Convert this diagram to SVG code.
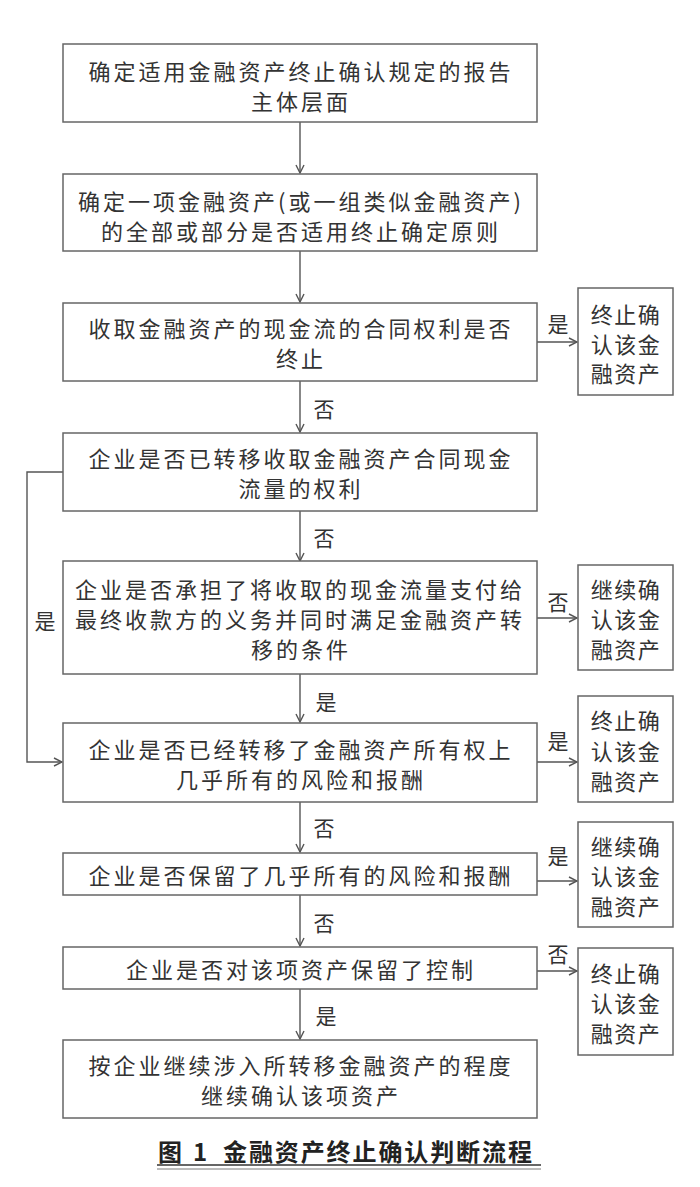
<svg xmlns="http://www.w3.org/2000/svg" width="700" height="1187" viewBox="0 0 700 1187">
<defs>
<style>
.box{fill:#fff;stroke:#666;stroke-width:1.5}
.t{font-family:"Noto Sans CJK SC","Liberation Serif",serif;font-size:22px;fill:#333;text-anchor:middle;dominant-baseline:central;letter-spacing:3px}
.s{font-family:"Noto Sans CJK SC","Liberation Serif",serif;font-size:22px;fill:#333;text-anchor:middle;dominant-baseline:central;letter-spacing:1.5px}
.lb{font-family:"Noto Sans CJK SC","Liberation Serif",serif;font-size:21px;fill:#333;text-anchor:middle;dominant-baseline:central}
.c{fill:none;stroke:#555;stroke-width:1.4}
.cap{font-family:"Noto Sans CJK SC","Liberation Sans",sans-serif;font-size:24px;font-weight:bold;fill:#222;dominant-baseline:central}
</style>
<marker id="ah" markerWidth="10" markerHeight="10" refX="9" refY="5" orient="auto" markerUnits="userSpaceOnUse">
<path d="M1,1 L9,5 L1,9" fill="none" stroke="#555" stroke-width="1.4"/>
</marker>
</defs>
<rect width="700" height="1187" fill="#fff"/>

<g id="connectors">
<line class="c" x1="300" y1="122" x2="300" y2="173" marker-end="url(#ah)"/>
<line class="c" x1="300" y1="251" x2="300" y2="302" marker-end="url(#ah)"/>
<line class="c" x1="300" y1="381" x2="300" y2="432" marker-end="url(#ah)"/>
<line class="c" x1="300" y1="511" x2="300" y2="561" marker-end="url(#ah)"/>
<line class="c" x1="300" y1="674" x2="300" y2="722" marker-end="url(#ah)"/>
<line class="c" x1="300" y1="802" x2="300" y2="852" marker-end="url(#ah)"/>
<line class="c" x1="300" y1="895" x2="300" y2="946" marker-end="url(#ah)"/>
<line class="c" x1="300" y1="989" x2="300" y2="1039" marker-end="url(#ah)"/>
<line class="c" x1="537" y1="342" x2="577" y2="342" marker-end="url(#ah)"/>
<line class="c" x1="537" y1="618" x2="577" y2="618" marker-end="url(#ah)"/>
<line class="c" x1="537" y1="762" x2="577" y2="762" marker-end="url(#ah)"/>
<line class="c" x1="537" y1="881" x2="577" y2="881" marker-end="url(#ah)"/>
<line class="c" x1="537" y1="971" x2="577" y2="971" marker-end="url(#ah)"/>
<polyline class="c" points="63,472 27,472 27,762 62,762" marker-end="url(#ah)"/>
<text class="lb" x="324" y="408">否</text>
<text class="lb" x="324" y="537">否</text>
<text class="lb" x="326" y="701">是</text>
<text class="lb" x="324" y="827">否</text>
<text class="lb" x="324" y="922">否</text>
<text class="lb" x="326" y="1015">是</text>
<text class="lb" x="558" y="323">是</text>
<text class="lb" x="558" y="601">否</text>
<text class="lb" x="558" y="740">是</text>
<text class="lb" x="558" y="855">是</text>
<text class="lb" x="558" y="953">否</text>
<text class="lb" x="45" y="620">是</text>
</g>

<g id="n1"><rect class="box" x="63" y="44" width="474" height="78"/>
<text class="t" x="301" y="70">确定适用金融资产终止确认规定的报告</text>
<text class="t" x="301" y="100">主体层面</text></g>

<g id="n2"><rect class="box" x="63" y="174" width="474" height="77"/>
<text class="t" x="301" y="200">确定一项金融资产(或一组类似金融资产)</text>
<text class="t" x="301" y="230">的全部或部分是否适用终止确定原则</text></g>

<g id="n3"><rect class="box" x="63" y="303" width="474" height="78"/>
<text class="t" x="301" y="327">收取金融资产的现金流的合同权利是否</text>
<text class="t" x="301" y="357">终止</text></g>

<g id="n4"><rect class="box" x="63" y="433" width="474" height="78"/>
<text class="t" x="301" y="457">企业是否已转移收取金融资产合同现金</text>
<text class="t" x="301" y="487">流量的权利</text></g>

<g id="n5"><rect class="box" x="63" y="561" width="474" height="113"/>
<text class="t" x="300" y="588">企业是否承担了将收取的现金流量支付给</text>
<text class="t" x="300" y="618">最终收款方的义务并同时满足金融资产转</text>
<text class="t" x="301" y="648">移的条件</text></g>

<g id="n6"><rect class="box" x="63" y="723" width="474" height="79"/>
<text class="t" x="301" y="748">企业是否已经转移了金融资产所有权上</text>
<text class="t" x="301" y="778">几乎所有的风险和报酬</text></g>

<g id="n7"><rect class="box" x="63" y="853" width="474" height="42"/>
<text class="t" x="301" y="874">企业是否保留了几乎所有的风险和报酬</text></g>

<g id="n8"><rect class="box" x="63" y="947" width="474" height="42"/>
<text class="t" x="301" y="968">企业是否对该项资产保留了控制</text></g>

<g id="n9"><rect class="box" x="63" y="1040" width="474" height="78"/>
<text class="t" x="301" y="1064">按企业继续涉入所转移金融资产的程度</text>
<text class="t" x="301" y="1094">继续确认该项资产</text></g>

<g id="r1"><rect class="box" x="578" y="288" width="95" height="107"/>
<text class="s" x="626" y="313">终止确</text>
<text class="s" x="626" y="343">认该金</text>
<text class="s" x="626" y="372">融资产</text></g>

<g id="r2"><rect class="box" x="578" y="565" width="95" height="105"/>
<text class="s" x="626" y="588">继续确</text>
<text class="s" x="626" y="618">认该金</text>
<text class="s" x="626" y="648">融资产</text></g>

<g id="r3"><rect class="box" x="578" y="696" width="95" height="106"/>
<text class="s" x="626" y="719">终止确</text>
<text class="s" x="626" y="750">认该金</text>
<text class="s" x="626" y="780">融资产</text></g>

<g id="r4"><rect class="box" x="578" y="822" width="95" height="105"/>
<text class="s" x="626" y="845">继续确</text>
<text class="s" x="626" y="875">认该金</text>
<text class="s" x="626" y="905">融资产</text></g>

<g id="r5"><rect class="box" x="578" y="948" width="95" height="107"/>
<text class="s" x="626" y="972">终止确</text>
<text class="s" x="626" y="1002">认该金</text>
<text class="s" x="626" y="1032">融资产</text></g>

<g id="caption">
<text class="cap" y="1150"><tspan x="158">图</tspan><tspan x="193">1</tspan><tspan x="223" style="letter-spacing:1.9px">金融资产终止确认判断流程</tspan></text>
<line x1="157" y1="1165" x2="541" y2="1165" stroke="#333" stroke-width="1.6"/>
<line x1="157" y1="1169" x2="541" y2="1169" stroke="#555" stroke-width="0.8"/>
</g>
</svg>
